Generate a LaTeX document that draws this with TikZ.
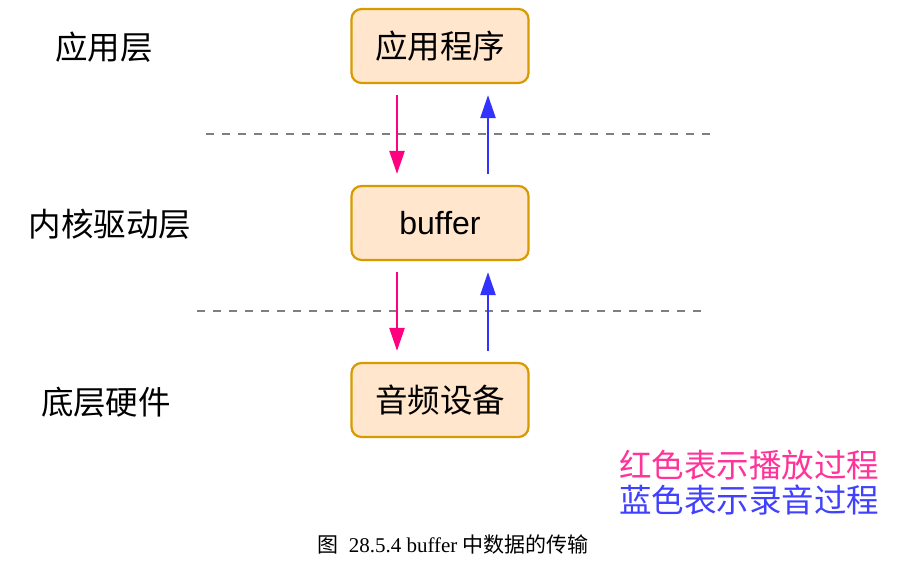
\documentclass[tikz,border=0pt]{standalone}
\usepackage{fontspec}
\setmainfont{Liberation Sans}
\newfontfamily\cjk{Noto Sans CJK SC}
\newfontfamily\capserif{Liberation Serif}
\usetikzlibrary{arrows.meta}
\definecolor{boxfill}{HTML}{FFE6CC}
\definecolor{boxline}{HTML}{D79B00}
\definecolor{playred}{HTML}{FF0080}
\definecolor{recblue}{HTML}{3333FF}
\definecolor{legred}{HTML}{FF3399}
\definecolor{legblue}{HTML}{4040FF}
\definecolor{sepgray}{HTML}{808080}
\tikzset{
  layerbox/.style={draw=boxline, fill=boxfill, line width=2.2pt, rounded corners=10pt,
    minimum width=177pt, minimum height=74pt, inner sep=0pt, font=\fontsize{32}{36}\selectfont},
  layerlabel/.style={inner sep=0pt, font=\cjk\fontsize{32.5}{36}\selectfont},
  sepline/.style={draw=sepgray, line width=2.5pt, dash pattern=on 8pt off 8pt},
  playarrow/.style={draw=playred, line width=2.5pt, -{Triangle[length=23pt,width=15pt]}},
  recarrow/.style={draw=recblue, line width=2.5pt, -{Triangle[length=23pt,width=15pt]}},
  legend/.style={inner sep=0pt, anchor=west, font=\cjk\fontsize{32.5}{36}\selectfont}
}
\begin{document}
\begin{tikzpicture}[x=1pt,y=-1pt]
\useasboundingbox[fill=white] (0,0) rectangle (919,562);

\node[layerbox] (app) at (440,46) {\cjk\fontsize{32.5}{36}\selectfont 应用程序};
\node[layerbox] (buf) at (440,223) {buffer};
\node[layerbox] (dev) at (440,400) {\cjk\fontsize{32.5}{36}\selectfont 音频设备};

\node[layerlabel] (l1) at (104,47) {应用层};
\node[layerlabel] (l2) at (110,224) {内核驱动层};
\node[layerlabel] (l3) at (106,402) {底层硬件};

\coordinate (s1a) at (206,134);
\coordinate (s1b) at (712,134);
\coordinate (s2a) at (197,311);
\coordinate (s2b) at (705,311);
\draw[sepline] (s1a) -- (s1b);
\draw[sepline] (s2a) -- (s2b);

\draw[playarrow] ([xshift=-43pt,yshift=-11pt]app.south) -- ([xshift=-43pt,yshift=11pt]buf.north);
\draw[recarrow] ([xshift=48pt,yshift=11pt]buf.north) -- ([xshift=48pt,yshift=-11pt]app.south);
\draw[playarrow] ([xshift=-43pt,yshift=-11pt]buf.south) -- ([xshift=-43pt,yshift=11pt]dev.north);
\draw[recarrow] ([xshift=48pt,yshift=11pt]dev.north) -- ([xshift=48pt,yshift=-11pt]buf.south);

\node[legend, text=legred] (lg1) at (619,465) {红色表示播放过程};
\node[legend, text=legblue] (lg2) at (619,500) {蓝色表示录音过程};

\node[inner sep=0pt, font=\capserif\fontsize{21}{24}\selectfont] (cap) at (453,545)
  {{\cjk 图}\ \ 28.5.4 buffer {\cjk 中数据的传输}};
\end{tikzpicture}
\end{document}
